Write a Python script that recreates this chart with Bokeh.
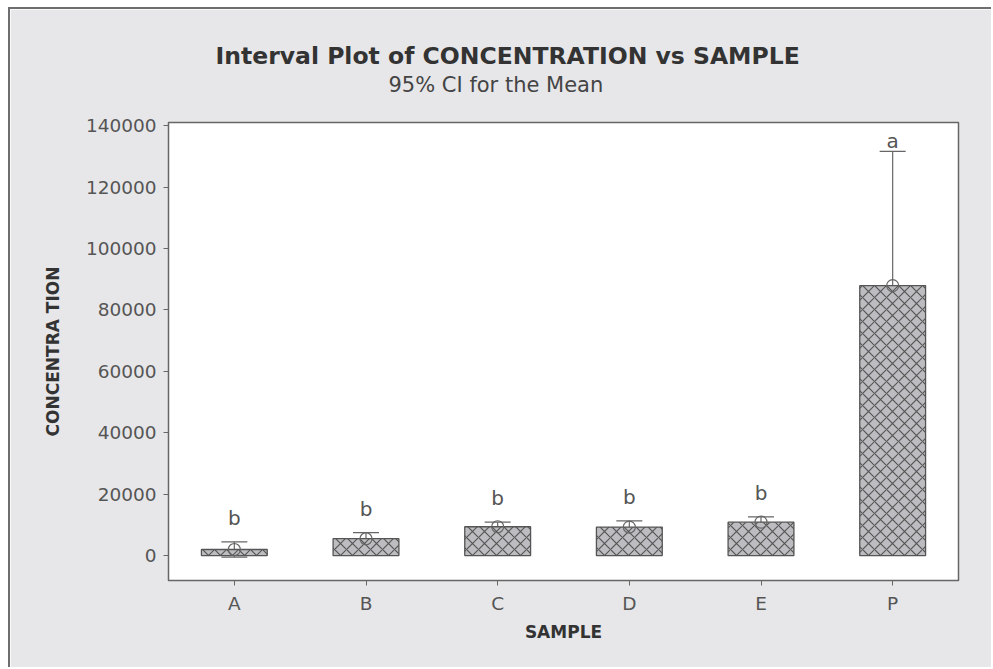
from bokeh.plotting import figure
from bokeh.models import ColumnDataSource, Whisker, TeeHead, Title, FixedTicker
from bokeh.embed import file_html
from bokeh.resources import INLINE
from bokeh.core.properties import value

samples = ["A", "B", "C", "D", "E", "P"]
means = [2000, 5500, 9400, 9300, 10900, 87900]
ci_lower = [-500, 3500, 7900, 7400, 9200, 44000]
ci_upper = [4500, 7500, 10900, 11300, 12600, 131600]
letters = ["b", "b", "b", "b", "b", "a"]
y_ticks = [0, 20000, 40000, 60000, 80000, 100000, 120000, 140000]

letter_offsets = [-24, -24, -24, -24, -24, -10]

src = ColumnDataSource(dict(x=samples, mean=means, lo=ci_lower, hi=ci_upper,
                            letter=letters, yoff=letter_offsets))

FONT = "DejaVu Sans"
GRAY = "#555555"

p = figure(x_range=samples, y_range=(-8100, 141000), width=983, height=660,
           output_backend="svg", toolbar_location=None,
           min_border_left=158, min_border_right=35, min_border_top=113, min_border_bottom=89)
p.margin = (7, 0, 0, 8)
p.styles = {"border-left": "2px solid #6e6e6e", "border-top": "2px solid #6e6e6e"}
p.background_fill_color = "white"
p.border_fill_color = "#e7e7e9"
p.outline_line_color = "#666666"
p.outline_line_width = 1.5
p.xgrid.visible = False
p.ygrid.visible = False
p.x_range.range_padding = 0

p.vbar(x="x", top="mean", bottom=0, width=0.5, source=src,
       fill_color="#bdbdc1", line_color="#555555", line_width=1.3,
       hatch_pattern="diagonal_cross", hatch_color="#555555", hatch_scale=12, hatch_weight=1.2)

w = Whisker(base="x", upper="hi", lower="lo", source=src, line_color="#666666", line_width=1.2,
            upper_head=TeeHead(size=26, line_color="#666666", line_width=1.2),
            lower_head=TeeHead(size=26, line_color="#666666", line_width=1.2))
p.add_layout(w)

p.scatter(x="x", y="mean", source=src, marker="circle", size=12, fill_color=None,
          line_color="#666666", line_width=1.2)

p.text(x="x", y="hi", text="letter", source=src, y_offset="yoff", text_align="center",
       text_baseline="alphabetic", text_font=value(FONT), text_font_size="20px", text_color=GRAY)

# axes
p.yaxis.ticker = FixedTicker(ticks=y_ticks)
p.yaxis.formatter.use_scientific = False
for ax in (p.xaxis[0], p.yaxis[0]):
    ax.axis_line_color = "#666666"
    ax.major_tick_line_color = "#666666"
    ax.major_tick_out = 5
    ax.major_tick_in = 0
    ax.minor_tick_line_color = None
    ax.major_label_text_font = FONT
    ax.major_label_text_font_size = "18.5px"
    ax.major_label_text_color = GRAY
    ax.axis_label_text_font = FONT
    ax.axis_label_text_font_style = "bold"
    ax.axis_label_text_color = "#333333"

p.yaxis.axis_label = "CONCENTRA TION"
p.yaxis.axis_label_text_font_size = "17px"
p.yaxis.axis_label_standoff = 20
p.yaxis.major_label_standoff = 7
p.xaxis.axis_label = "SAMPLE"
p.xaxis.axis_label_text_font_size = "17px"
p.xaxis.axis_label_standoff = 5
p.xaxis.major_label_standoff = 7

p.title = None
p.add_layout(Title(text=" ", align="left", standoff=8, text_font=FONT, text_font_size="12px"), "above")
p.add_layout(Title(text="95% CI for the Mean", align="left", offset=220, standoff=4,
                   text_font=FONT, text_font_style="normal", text_font_size="21px",
                   text_color="#444444"), "above")
p.add_layout(Title(text="Interval Plot of CONCENTRATION vs SAMPLE", align="left", offset=47, standoff=-3,
                   text_font=FONT, text_font_style="bold", text_font_size="23.5px",
                   text_color="#333333"), "above")

open("out.html", "w").write(file_html(p, INLINE))
